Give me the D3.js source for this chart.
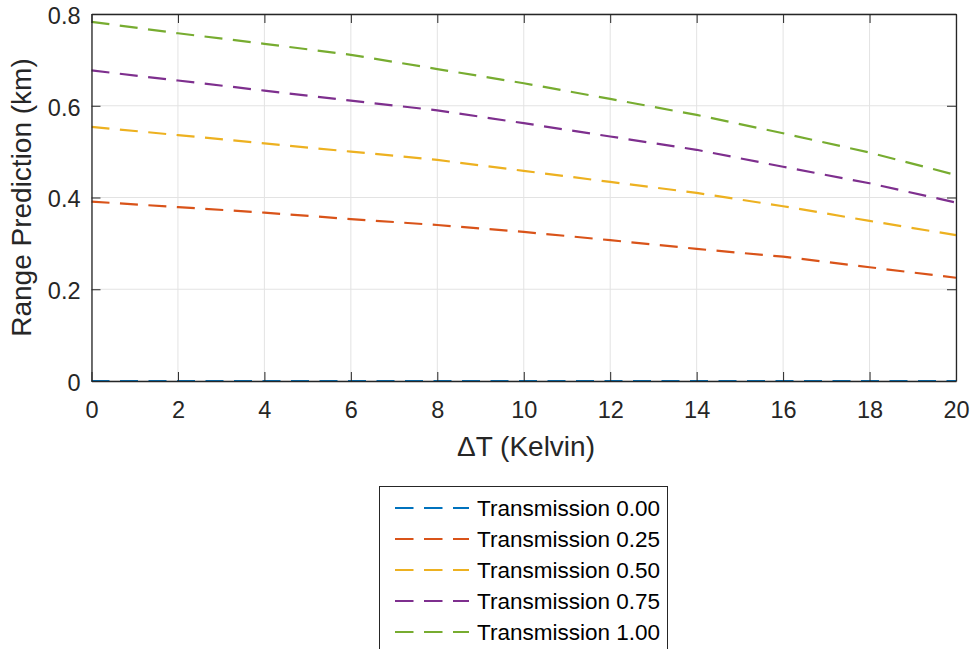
<!DOCTYPE html>
<html><head><meta charset="utf-8">
<script src="https://cdn.jsdelivr.net/npm/d3@7"></script>
<style>body{margin:0;background:#fff}svg{display:block}text{font-family:"Liberation Sans",Arial,Helvetica,sans-serif}</style>
</head><body><svg id="c" width="971" height="649"></svg>
<script>
const deltaT = [0,2,4,6,8,10,12,14,16,18,20];
const seriesNames = ["Transmission 0.00","Transmission 0.25","Transmission 0.50","Transmission 0.75","Transmission 1.00"];
const t000 = [0,0,0,0,0,0,0,0,0,0,0];
const t025 = [0.391,0.379,0.367,0.353,0.340,0.325,0.307,0.288,0.271,0.248,0.225];
const t050 = [0.554,0.536,0.518,0.500,0.482,0.458,0.434,0.410,0.381,0.349,0.318];
const t075 = [0.677,0.655,0.633,0.611,0.590,0.562,0.533,0.504,0.467,0.431,0.389];
const t100 = [0.783,0.758,0.735,0.711,0.680,0.649,0.615,0.580,0.540,0.498,0.449];
const colors = ["#0072BD","#D95319","#EDB120","#7E2F8E","#77AC30"];
const xTicks = [0,2,4,6,8,10,12,14,16,18,20];
const yTicks = [0,0.2,0.4,0.6,0.8];
const allSeries = [t000,t025,t050,t075,t100];

const svg = d3.select("#c");
const L=91.5, R=956, T=14, B=381;
const x = d3.scaleLinear().domain([0,20]).range([L,R]);
const y = d3.scaleLinear().domain([0,0.8]).range([B,T]);
const axisCol="#262626";

// grid
const g = svg.append("g");
g.selectAll(".gx").data(xTicks).join("line").attr("x1",d=>x(d)).attr("x2",d=>x(d)).attr("y1",T).attr("y2",B).attr("stroke","#e3e3e3").attr("stroke-width",1);
g.selectAll(".gy").data(yTicks).join("line").attr("y1",d=>y(d)).attr("y2",d=>y(d)).attr("x1",L).attr("x2",R).attr("stroke","#e3e3e3").attr("stroke-width",1);

// lines
const line = d3.line().x((d,i)=>x(deltaT[i])).y(d=>y(d));
allSeries.forEach((s,i)=>{
  svg.append("path").datum(s).attr("d",line).attr("fill","none").attr("stroke",colors[i]).attr("stroke-width",2.2).attr("stroke-dasharray","18,10.5");
});

// axes with inner ticks
const fs = "23.5px";
const xb = svg.append("g").attr("transform",`translate(0,${B})`).call(d3.axisBottom(x).tickValues(xTicks).tickSize(-9).tickPadding(20).tickSizeOuter(0));
const xt = svg.append("g").attr("transform",`translate(0,${T})`).call(d3.axisTop(x).tickValues(xTicks).tickSize(-9).tickFormat("").tickSizeOuter(0));
const yl = svg.append("g").attr("transform",`translate(${L},0)`).call(d3.axisLeft(y).tickValues(yTicks).tickSize(-9).tickPadding(11).tickSizeOuter(0).tickFormat(d=>d===0?"0":d3.format(".1f")(d)));
const yr = svg.append("g").attr("transform",`translate(${R},0)`).call(d3.axisRight(y).tickValues(yTicks).tickSize(-9).tickFormat("").tickSizeOuter(0));
[xb,xt,yl,yr].forEach(a=>{
  a.selectAll("path").attr("stroke",axisCol).attr("stroke-width",1.3);
  a.selectAll("line").attr("stroke",axisCol).attr("stroke-width",1);
  a.selectAll("text").attr("fill",axisCol).style("font-size",fs).style("font-family","'Liberation Sans',Arial,sans-serif");
});
xb.selectAll("text").attr("dy","0.71em");
yl.selectAll("text").attr("dy","0.4em");

// axis labels
svg.append("text").attr("x",526).attr("y",456).attr("text-anchor","middle").attr("fill",axisCol).style("font-size","28px").text("\u0394T (Kelvin)");
svg.append("text").attr("transform",`translate(31,${(T+B)/2}) rotate(-90)`).attr("text-anchor","middle").attr("fill",axisCol).style("font-size","28px").text("Range Prediction (km)");

// legend
const lg = svg.append("g");
lg.append("rect").attr("x",379.5).attr("y",486.5).attr("width",288).attr("height",170).attr("fill","#fff").attr("stroke",axisCol).attr("stroke-width",1);
seriesNames.forEach((n,i)=>{
  const yy = 508 + i*31;
  lg.append("line").attr("x1",395).attr("x2",469).attr("y1",yy).attr("y2",yy).attr("stroke",colors[i]).attr("stroke-width",2.2).attr("stroke-dasharray","18.5,10.5");
  lg.append("text").attr("x",477).attr("y",yy).attr("dy","0.36em").attr("fill","#000").style("font-size","22.5px").text(n);
});
</script></body></html>
